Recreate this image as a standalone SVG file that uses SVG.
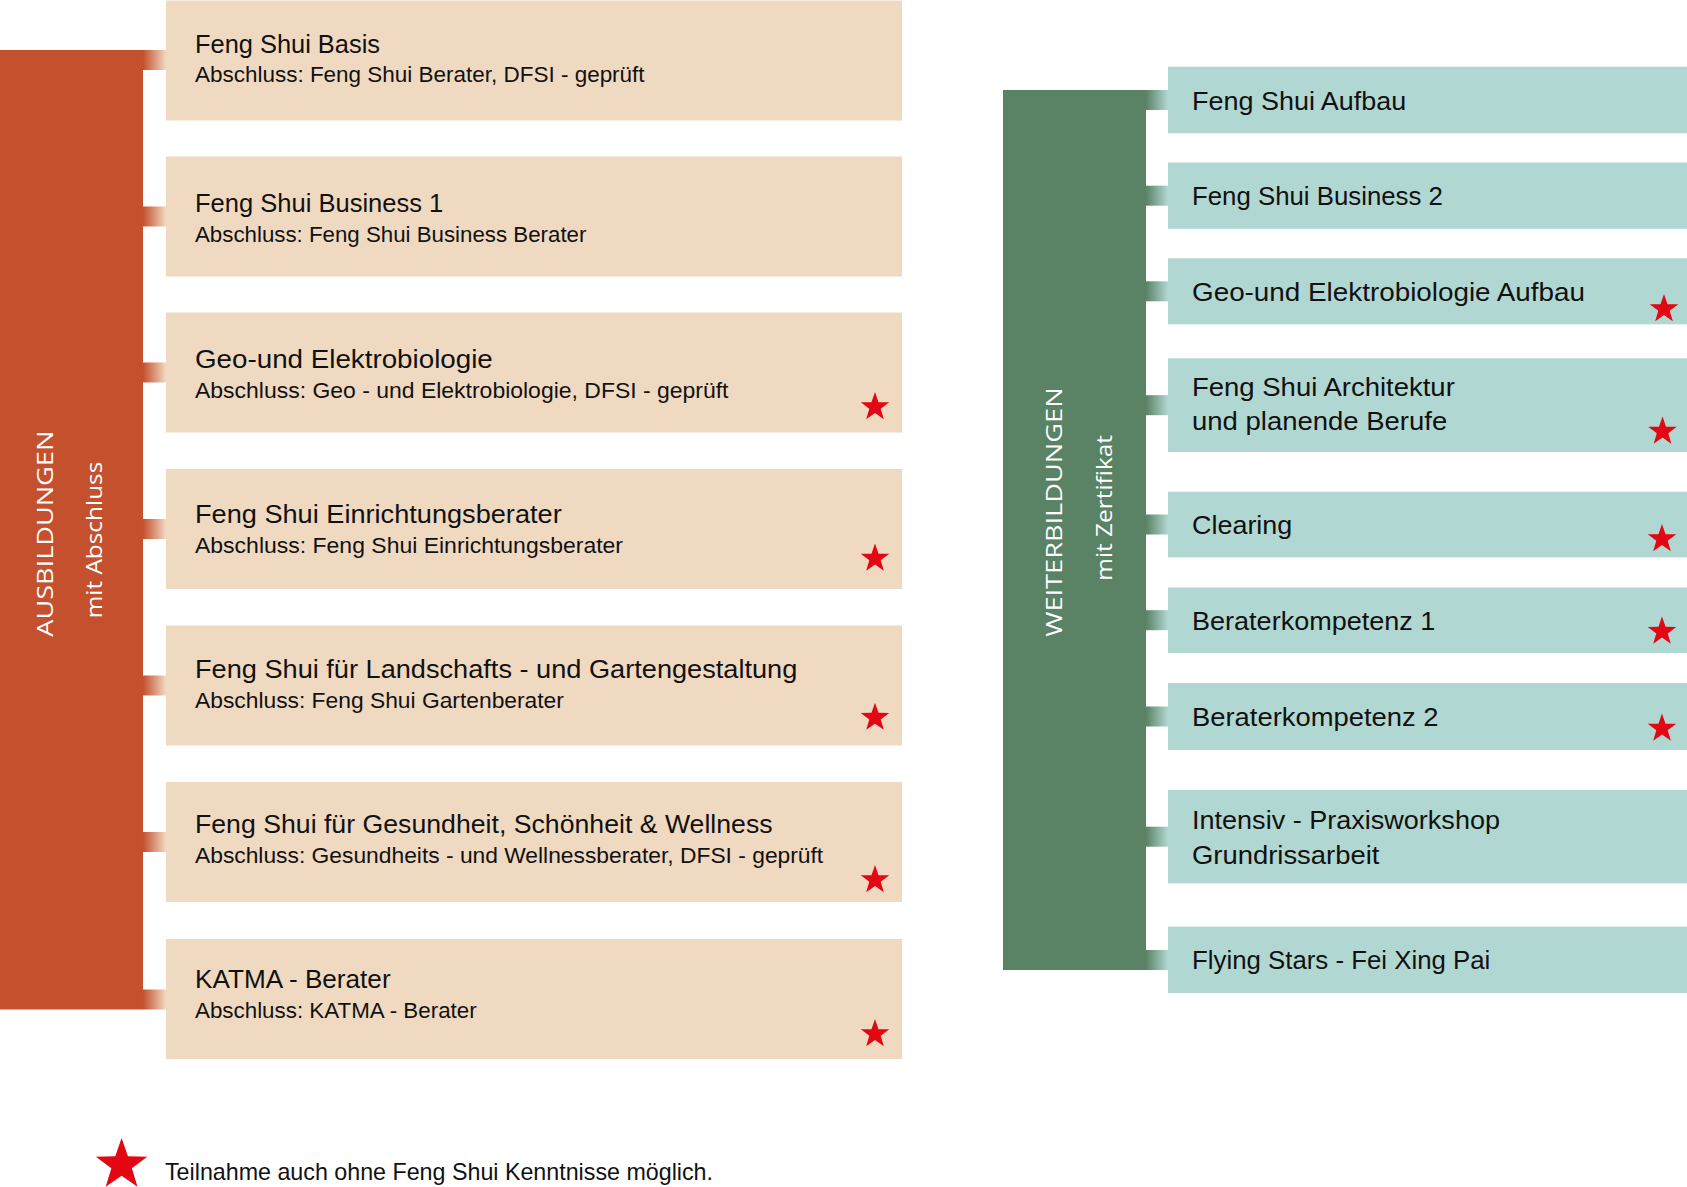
<svg xmlns="http://www.w3.org/2000/svg" width="1687" height="1187" viewBox="0 0 1687 1187">
<style>
.bg{fill:#ffffff}
.obox{fill:#F0D9C1}
.gbox{fill:#B1D7D2}
.obar{fill:#C4502D}
.gbar{fill:#5A8264}
.t{font-family:"Liberation Sans",Arial,sans-serif;fill:#111111}
.ti{font-size:26.5px}
.st{font-size:22.4px}
.rt{font-size:26.7px}
.vt{font-family:"Open Sans","Liberation Sans",sans-serif;font-weight:400;fill:#ffffff}
.star{fill:#E30613}
</style>
<defs>
<linearGradient id="og" x1="0" y1="0" x2="1" y2="0">
<stop offset="0" stop-color="#C4502D"/>
<stop offset="1" stop-color="#F0D9C1"/>
</linearGradient>
<linearGradient id="gg" x1="0" y1="0" x2="1" y2="0">
<stop offset="0" stop-color="#5A8264"/>
<stop offset="1" stop-color="#B1D7D2"/>
</linearGradient>
<path id="starShape" d="M0,-15 L3.53,-4.85 L14.27,-4.64 L5.71,1.85 L8.82,12.14 L0,6 L-8.82,12.14 L-5.71,1.85 L-14.27,-4.64 L-3.53,-4.85 Z"/>
</defs>
<rect class="bg" x="0" y="0" width="1687" height="1187"/>

<g id="ausbildungen">
<rect class="obar" x="0" y="50" width="143" height="959.5"/>
<text class="vt" font-size="22" transform="translate(52.7,636.7) rotate(-90)" textLength="206" lengthAdjust="spacingAndGlyphs">AUSBILDUNGEN</text>
<text class="vt" font-size="21" transform="translate(101.7,618.3) rotate(-90)" textLength="156.6" lengthAdjust="spacingAndGlyphs">mit Abschluss</text>
</g>

<g id="weiterbildungen">
<rect class="gbar" x="1003" y="90" width="143" height="880"/>
<text class="vt" font-size="22" transform="translate(1061.7,636.7) rotate(-90)" textLength="249.3" lengthAdjust="spacingAndGlyphs">WEITERBILDUNGEN</text>
<text class="vt" font-size="21" transform="translate(1111.7,580.7) rotate(-90)" textLength="145.7" lengthAdjust="spacingAndGlyphs">mit Zertifikat</text>
</g>

<g id="connectors">
<rect x="143" y="50" width="23" height="20" fill="url(#og)"/>
<rect x="143" y="206.5" width="23" height="20" fill="url(#og)"/>
<rect x="143" y="362.5" width="23" height="20" fill="url(#og)"/>
<rect x="143" y="519" width="23" height="20" fill="url(#og)"/>
<rect x="143" y="675.5" width="23" height="20" fill="url(#og)"/>
<rect x="143" y="832" width="23" height="20" fill="url(#og)"/>
<rect x="143" y="989.5" width="23" height="20" fill="url(#og)"/>
<rect x="1146" y="90" width="22" height="20" fill="url(#gg)"/>
<rect x="1146" y="185.7" width="22" height="20" fill="url(#gg)"/>
<rect x="1146" y="281.3" width="22" height="20" fill="url(#gg)"/>
<rect x="1146" y="395.2" width="22" height="20" fill="url(#gg)"/>
<rect x="1146" y="514.5" width="22" height="20" fill="url(#gg)"/>
<rect x="1146" y="610.2" width="22" height="20" fill="url(#gg)"/>
<rect x="1146" y="706.5" width="22" height="20" fill="url(#gg)"/>
<rect x="1146" y="826.7" width="22" height="20" fill="url(#gg)"/>
<rect x="1146" y="950" width="22" height="20" fill="url(#gg)"/>
</g>

<g id="basis">
<rect class="obox" x="166" y="0.5" width="736" height="120"/>
<text class="t ti" x="195" y="52.7" textLength="185" lengthAdjust="spacingAndGlyphs">Feng Shui Basis</text>
<text class="t st" x="195" y="82.2" textLength="449.6" lengthAdjust="spacingAndGlyphs">Abschluss: Feng Shui Berater, DFSI - geprüft</text>
</g>
<g id="business1">
<rect class="obox" x="166" y="156.5" width="736" height="120"/>
<text class="t ti" x="195" y="212" textLength="248.3" lengthAdjust="spacingAndGlyphs">Feng Shui Business 1</text>
<text class="t st" x="195" y="241.5" textLength="391.4" lengthAdjust="spacingAndGlyphs">Abschluss: Feng Shui Business Berater</text>
</g>
<g id="geo">
<rect class="obox" x="166" y="312.5" width="736" height="120"/>
<text class="t ti" x="195" y="368" textLength="297.8" lengthAdjust="spacingAndGlyphs">Geo-und Elektrobiologie</text>
<text class="t st" x="195" y="397.5" textLength="533.5" lengthAdjust="spacingAndGlyphs">Abschluss: Geo - und Elektrobiologie, DFSI - geprüft</text>
<use href="#starShape" class="star" x="875" y="407"/>
</g>
<g id="einrichtung">
<rect class="obox" x="166" y="469" width="736" height="120"/>
<text class="t ti" x="195" y="523" textLength="366.7" lengthAdjust="spacingAndGlyphs">Feng Shui Einrichtungsberater</text>
<text class="t st" x="195" y="552.5" textLength="428" lengthAdjust="spacingAndGlyphs">Abschluss: Feng Shui Einrichtungsberater</text>
<use href="#starShape" class="star" x="875" y="558.5"/>
</g>
<g id="garten">
<rect class="obox" x="166" y="625.5" width="736" height="120"/>
<text class="t ti" x="195" y="678" textLength="602.3" lengthAdjust="spacingAndGlyphs">Feng Shui für Landschafts - und Gartengestaltung</text>
<text class="t st" x="195" y="707.5" textLength="368.9" lengthAdjust="spacingAndGlyphs">Abschluss: Feng Shui Gartenberater</text>
<use href="#starShape" class="star" x="875" y="717.7"/>
</g>
<g id="gesundheit">
<rect class="obox" x="166" y="782" width="736" height="120"/>
<text class="t ti" x="195" y="833" textLength="577.6" lengthAdjust="spacingAndGlyphs">Feng Shui für Gesundheit, Schönheit &amp; Wellness</text>
<text class="t st" x="195" y="862.5" textLength="628.2" lengthAdjust="spacingAndGlyphs">Abschluss: Gesundheits - und Wellnessberater, DFSI - geprüft</text>
<use href="#starShape" class="star" x="875" y="880"/>
</g>
<g id="katma">
<rect class="obox" x="166" y="939" width="736" height="120"/>
<text class="t ti" x="195" y="988" textLength="195.6" lengthAdjust="spacingAndGlyphs">KATMA - Berater</text>
<text class="t st" x="195" y="1017.5" textLength="281.7" lengthAdjust="spacingAndGlyphs">Abschluss: KATMA - Berater</text>
<use href="#starShape" class="star" x="875" y="1034"/>
</g>

<g id="aufbau">
<rect class="gbox" x="1168" y="66.7" width="519" height="66.6"/>
<text class="t rt" x="1192" y="109.5" textLength="214.3" lengthAdjust="spacingAndGlyphs">Feng Shui Aufbau</text>
</g>
<g id="business2">
<rect class="gbox" x="1168" y="162.5" width="519" height="66.3"/>
<text class="t rt" x="1192" y="205.2" textLength="250.9" lengthAdjust="spacingAndGlyphs">Feng Shui Business 2</text>
</g>
<g id="geoaufbau">
<rect class="gbox" x="1168" y="258.3" width="519" height="66"/>
<text class="t rt" x="1192" y="300.8" textLength="393" lengthAdjust="spacingAndGlyphs">Geo-und Elektrobiologie Aufbau</text>
<use href="#starShape" class="star" x="1664" y="309"/>
</g>
<g id="architektur">
<rect class="gbox" x="1168" y="358.3" width="519" height="93.7"/>
<text class="t rt" x="1192" y="395.5" textLength="262.8" lengthAdjust="spacingAndGlyphs">Feng Shui Architektur</text>
<text class="t rt" x="1192" y="430" textLength="255.2" lengthAdjust="spacingAndGlyphs">und planende Berufe</text>
<use href="#starShape" class="star" x="1662.5" y="431.5"/>
</g>
<g id="clearing">
<rect class="gbox" x="1168" y="491.7" width="519" height="65.7"/>
<text class="t rt" x="1192" y="534" textLength="100.3" lengthAdjust="spacingAndGlyphs">Clearing</text>
<use href="#starShape" class="star" x="1662" y="539"/>
</g>
<g id="beraterkompetenz1">
<rect class="gbox" x="1168" y="587.5" width="519" height="65.5"/>
<text class="t rt" x="1192" y="629.7" textLength="243.4" lengthAdjust="spacingAndGlyphs">Beraterkompetenz 1</text>
<use href="#starShape" class="star" x="1662" y="631.6"/>
</g>
<g id="beraterkompetenz2">
<rect class="gbox" x="1168" y="683" width="519" height="67"/>
<text class="t rt" x="1192" y="726" textLength="246.6" lengthAdjust="spacingAndGlyphs">Beraterkompetenz 2</text>
<use href="#starShape" class="star" x="1662" y="728.5"/>
</g>
<g id="intensiv">
<rect class="gbox" x="1168" y="790" width="519" height="93.4"/>
<text class="t rt" x="1192" y="829" textLength="308" lengthAdjust="spacingAndGlyphs">Intensiv - Praxisworkshop</text>
<text class="t rt" x="1192" y="863.5" textLength="187.4" lengthAdjust="spacingAndGlyphs">Grundrissarbeit</text>
</g>
<g id="flyingstars">
<rect class="gbox" x="1168" y="926.6" width="519" height="66.5"/>
<text class="t rt" x="1192" y="969.3" textLength="298.3" lengthAdjust="spacingAndGlyphs">Flying Stars - Fei Xing Pai</text>
</g>

<g id="legend">
<use href="#starShape" class="star" transform="translate(121.6,1165) scale(1.8)"/>
<text class="t" font-size="24" x="165" y="1180" textLength="548" lengthAdjust="spacingAndGlyphs">Teilnahme auch ohne Feng Shui Kenntnisse möglich.</text>
</g>
</svg>
